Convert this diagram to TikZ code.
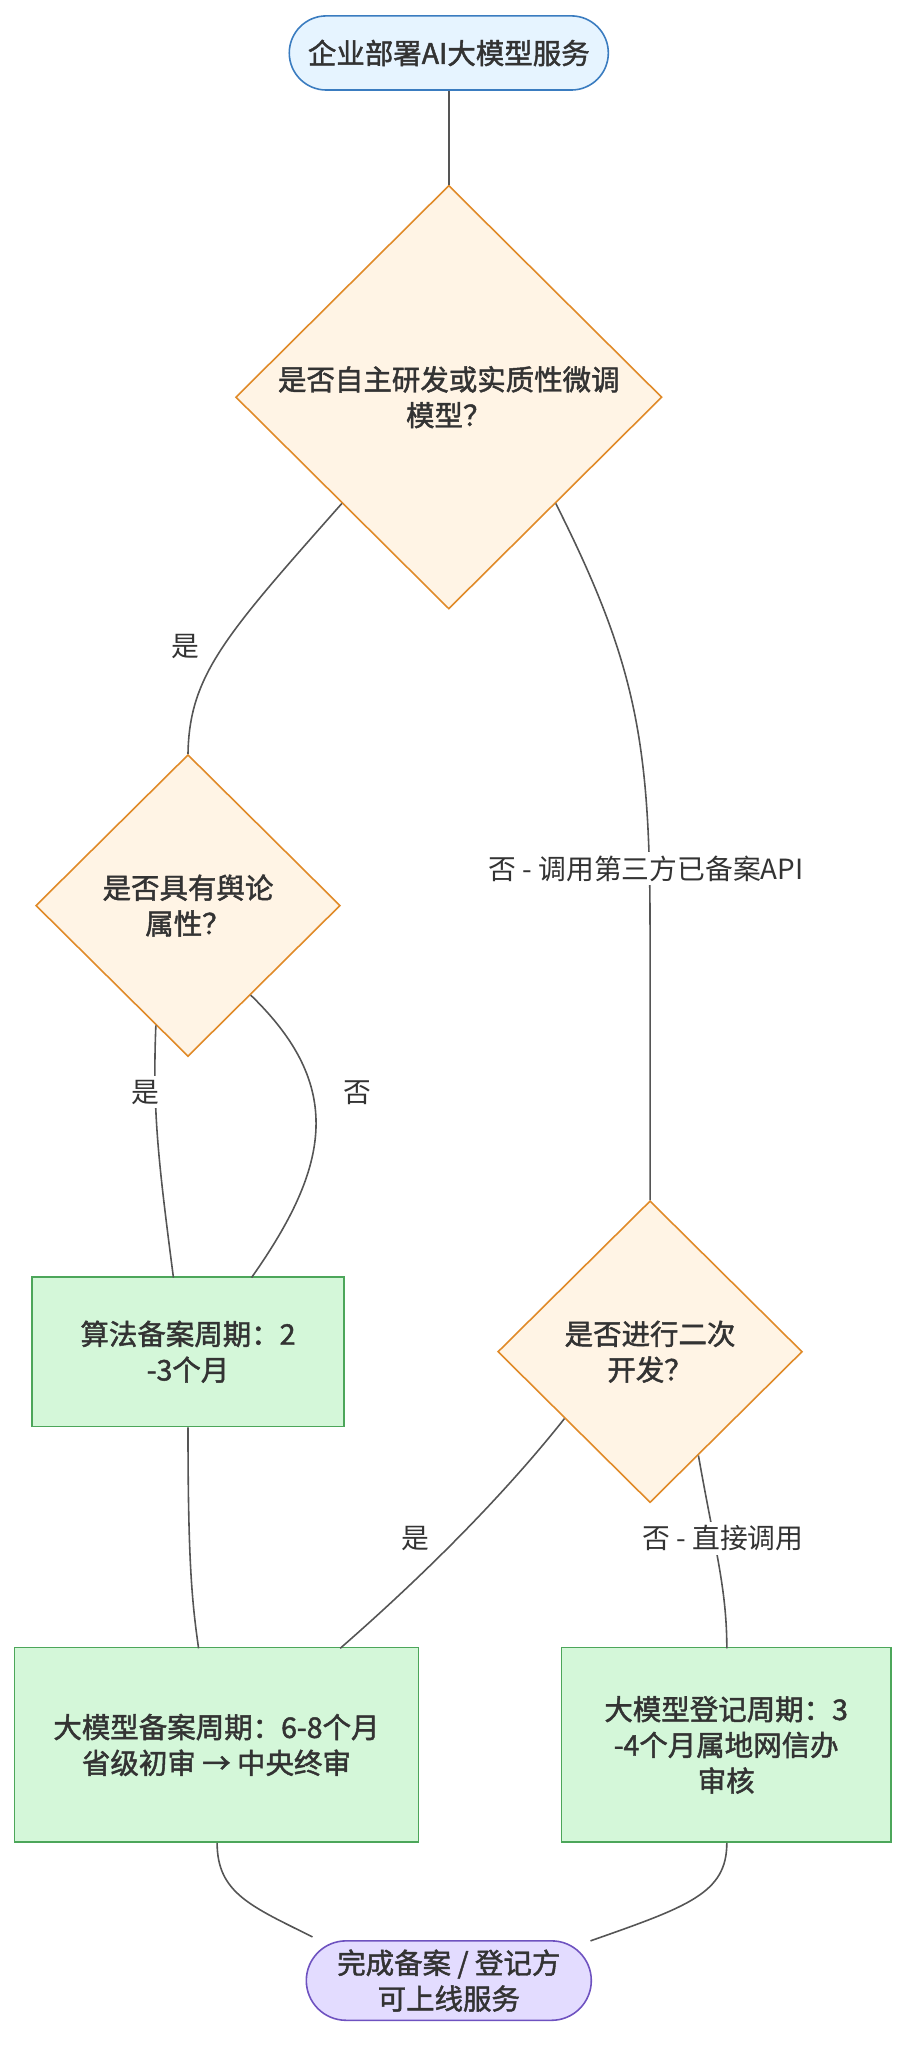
\documentclass[tikz,border=0pt]{standalone}
\usepackage{fontspec}
\newfontfamily\cjk{Noto Sans CJK SC}
\newfontfamily\cjkb{Noto Sans CJK SC}[FakeBold=1.6]
\usetikzlibrary{shapes.geometric,shapes.misc}
\definecolor{edgec}{HTML}{555555}
\definecolor{sfill}{HTML}{E6F4FF}\definecolor{sdraw}{HTML}{3A7CC0}
\definecolor{dfill}{HTML}{FFF4E5}\definecolor{ddraw}{HTML}{E08A28}
\definecolor{bfill}{HTML}{D4F7D9}\definecolor{bdraw}{HTML}{4CA65A}
\definecolor{efill}{HTML}{E3DCFF}\definecolor{edraw}{HTML}{6E52C0}
\tikzset{
 base/.style={font=\cjkb\fontsize{21.5}{27}\selectfont, text=black!80, align=center, line width=1.2pt},
 term/.style={base, rounded rectangle, minimum height=56pt, inner xsep=12pt},
 dec/.style={base, diamond, fill=dfill, draw=ddraw, inner sep=0pt},
 box/.style={base, rectangle, fill=bfill, draw=bdraw},
 edge/.style={draw=edgec, line width=1.2pt},
 lab/.style={font=\cjk\fontsize{21}{26}\selectfont, text=black!80, fill=white, inner sep=3pt}
}
\begin{document}
\begin{tikzpicture}[x=1pt,y=-1pt]
\useasboundingbox (0,0) rectangle (680,1556);
\node[term, fill=sfill, draw=sdraw, minimum width=265pt] (s) at (339,40) {企业部署AI大模型服务};
\node[dec, minimum width=322pt, minimum height=320pt] (d1) at (339,300) {是否自主研发或实质性微调\\模型？};
\node[dec, minimum width=230pt, minimum height=228pt] (d2) at (142,684) {是否具有舆论\\属性？};
\node[dec, minimum width=230pt, minimum height=228pt] (d3) at (491,1021) {是否进行二次\\开发？};
\node[box, minimum width=236pt, minimum height=113pt] (b1) at (142,1021) {算法备案周期：2\\-3个月};
\node[box, minimum width=305pt, minimum height=147pt] (b2) at (163.5,1318) {大模型备案周期：6-8个月\\省级初审 → 中央终审};
\node[box, minimum width=249pt, minimum height=147pt] (b3) at (548.5,1318) {大模型登记周期：3\\-4个月属地网信办\\审核};
\node[term, fill=efill, draw=edraw, minimum width=205pt, minimum height=60pt] (e) at (339,1496) {完成备案 / 登记方\\可上线服务};

\draw[edge] (s.south) -- (d1.north);
\draw[edge] (d1.south west) .. controls (170,480) and (143,510) .. (d2.north);
\node[lab] (l1) at (140,488) {是};
\draw[edge] (d1.south east) .. controls (480,500) and (491,560) .. (491,700) -- (d3.north);
\node[lab] (l2) at (488,656) {否 - 调用第三方已备案API};
\draw[edge] (d2.-105) .. controls (115,840) and (120,880) .. (131,965);
\node[lab] (l3) at (110,825) {是};
\draw[edge] (d2.-55) .. controls (260,820) and (250,880) .. (190,965);
\node[lab] (l4) at (270,825) {否};
\draw[edge] (b1.south) .. controls (142,1180) and (145,1210) .. (150,1245);
\draw[edge] (d3.-142) .. controls (380,1130) and (320,1190) .. (257,1245);
\node[lab] (l5) at (314,1162) {是};
\draw[edge] (d3.-65) .. controls (540,1170) and (549,1200) .. (549,1245);
\node[lab] (l6) at (546,1162) {否 - 直接调用};
\draw[edge] (164,1392) .. controls (164,1430) and (190,1440) .. (236,1463);
\draw[edge] (549,1392) .. controls (549,1430) and (520,1440) .. (446,1466);
\end{tikzpicture}
\end{document}
